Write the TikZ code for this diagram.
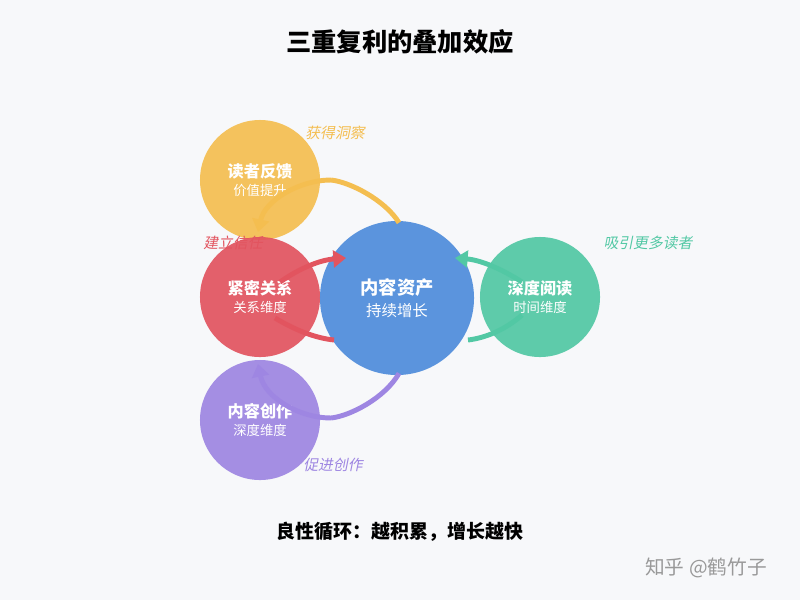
\documentclass[tikz,border=0pt]{standalone}
\usepackage{fontspec}
\setmainfont{Noto Sans CJK SC}
\newfontfamily\cjkit[FakeSlant=0.2]{Noto Sans CJK SC}
\usetikzlibrary{arrows.meta}
\definecolor{cy}{HTML}{F4BE50}
\definecolor{cr}{HTML}{E2545F}
\definecolor{cp}{HTML}{9E86E2}
\definecolor{cb}{HTML}{4E8CDB}
\definecolor{cg}{HTML}{52C8A4}
\definecolor{bg}{HTML}{F7F8FA}
\tikzset{
 circ/.style={circle,fill=#1,fill opacity=0.92,text opacity=1,text=white,align=center,inner sep=0pt},
 arr/.style={draw=#1,line width=3.5pt,-{Triangle[length=9pt,width=12pt]}},
 lin/.style={draw=#1,line width=3.5pt},
 lab/.style={text=#1,font=\cjkit\fontsize{10.5}{12}\selectfont}
}
\begin{document}
\begin{tikzpicture}[x=0.025cm,y=-0.025cm]
\fill[bg] (0,0) rectangle (800,600);
\useasboundingbox (0,0) rectangle (800,600);
\node (title) at (400,42) {\fontsize{18}{20}\selectfont\bfseries 三重复利的叠加效应};
\node[circ=cy,minimum size=3cm] (y) at (260,180) {\fontsize{11.5}{14}\selectfont\bfseries 读者反馈\\[1pt]\fontsize{9.5}{11}\selectfont 价值提升};
\node[circ=cr,minimum size=3cm] (r) at (260,297) {\fontsize{11.5}{14}\selectfont\bfseries 紧密关系\\[1pt]\fontsize{9.5}{11}\selectfont 关系维度};
\node[circ=cp,minimum size=3cm] (p) at (260,420) {\fontsize{11.5}{14}\selectfont\bfseries 内容创作\\[1pt]\fontsize{9.5}{11}\selectfont 深度维度};
\node[circ=cg,minimum size=3cm] (g) at (540,297) {\fontsize{11.5}{14}\selectfont\bfseries 深度阅读\\[1pt]\fontsize{9.5}{11}\selectfont 时间维度};
\node[circ=cb,minimum size=3.85cm] (b) at (397,298) {\fontsize{13}{16}\selectfont\bfseries 内容资产\\[4pt]\fontsize{11}{13}\selectfont 持续增长};
% yellow
\coordinate (y1) at (331,180);
\coordinate (y2) at (258,232);
\draw[lin=cy] (b.north) ++(2,2) .. controls (385,200) and (350,182) .. (y1);
\draw[arr=cy] (y1) .. controls (300,180) and (265,200) .. (y2);
% red
\coordinate (r1) at (280,282);
\coordinate (r2) at (346,258);
\coordinate (r3) at (275,318);
\coordinate (r4) at (334,340);
\draw[arr=cr] (r1) .. controls (300,268) and (320,260) .. (r2);
\draw[lin=cr] (r3) .. controls (295,330) and (315,338) .. (r4);
% green
\coordinate (g1) at (522,282);
\coordinate (g2) at (455,258);
\coordinate (g3) at (522,315);
\coordinate (g4) at (468,340);
\draw[arr=cg] (g1) .. controls (500,268) and (480,260) .. (g2);
\draw[lin=cg] (g3) .. controls (505,330) and (485,338) .. (g4);
% purple
\coordinate (p1) at (331,418);
\coordinate (p2) at (258,364);
\draw[lin=cp] (b.south) ++(2,-2) .. controls (385,398) and (350,416) .. (p1);
\draw[arr=cp] (p1) .. controls (300,418) and (265,398) .. (p2);
% labels
\node[lab=cy] (ly) at (335,133) {获得洞察};
\node[lab=cr] (lr) at (233,243) {建立信任};
\node[lab=cg] (lg) at (648,243) {吸引更多读者};
\node[lab=cp] (lp) at (333,465) {促进创作};
\node (foot) at (400,532) {\fontsize{13.5}{16}\selectfont\bfseries 良性循环：越积累，增长越快};
\node[text=gray!80] (wm) at (706,568) {\fontsize{14}{16}\selectfont 知乎 @鹤竹子};
\end{tikzpicture}
\end{document}
